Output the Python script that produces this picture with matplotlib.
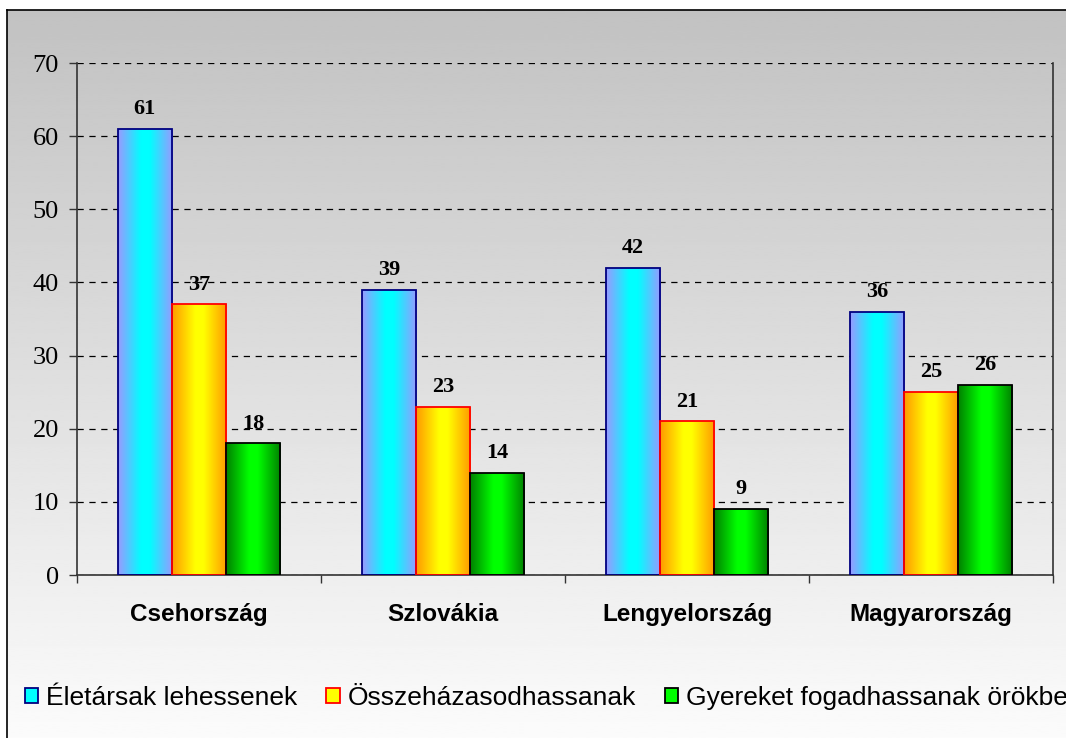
import numpy as np
import matplotlib.pyplot as plt
from matplotlib.colors import LinearSegmentedColormap
from matplotlib.patches import Rectangle
from matplotlib.lines import Line2D

# data
countries = ["Csehország", "Szlovákia", "Lengyelország", "Magyarország"]
eletarsak = [61, 39, 42, 36]
osszehazasodhassanak = [37, 23, 21, 25]
gyereket = [18, 14, 9, 26]
series_names = ["Életársak lehessenek", "Összeházasodhassanak",
                "Gyereket fogadhassanak örökbe"]
yticks = [0, 10, 20, 30, 40, 50, 60, 70]

# style for each series: (edge colour of gradient, centre colour, outline)
styles = [("#9999ff", "#00ffff", "#000080"),
          ("#ff9900", "#ffff00", "#ff0000"),
          ("#008000", "#00ff00", "#000000")]

W, H = 1066, 738
fig = plt.figure(figsize=(W / 100, H / 100), dpi=100)

# background gradient inside the chart border
bg = fig.add_axes([7 / W, 0, 1 - 7 / W, (H - 10) / H], zorder=0)
bg.set_axis_off()
grad = np.linspace(0.76, 0.985, 256).reshape(-1, 1)
bg.imshow(grad, cmap="gray", vmin=0, vmax=1, aspect="auto",
          extent=[0, 1, 1, 0], interpolation="bilinear")
fig.add_artist(Line2D([7 / W, 7 / W], [0, (H - 10) / H], color="black", lw=1.2))
fig.add_artist(Line2D([7 / W, 1], [(H - 10) / H, (H - 10) / H], color="black", lw=1.2))

ax = fig.add_axes([77 / W, (H - 575) / H, (1053 - 77) / W, (575 - 63) / H], zorder=1)
ax.set_facecolor("none")

x = np.arange(len(countries))
w = 0.222
all_series = [eletarsak, osszehazasodhassanak, gyereket]

for i, (vals, (c_edge, c_mid, c_line)) in enumerate(zip(all_series, styles)):
    bars = ax.bar(x + (i - 1) * w, vals, w, facecolor="none", edgecolor=c_line,
                  linewidth=1.3, zorder=3, label=series_names[i])
    cmap = LinearSegmentedColormap.from_list(
        "g%d" % i, [(0, c_edge), (0.42, c_mid), (0.58, c_mid), (1, c_edge)])
    row = np.linspace(0, 1, 128).reshape(1, -1)
    for p in bars.patches:
        x0, y0 = p.get_x(), p.get_y()
        im = ax.imshow(row, cmap=cmap, aspect="auto", zorder=2, interpolation="bilinear",
                       extent=[x0, x0 + p.get_width(), y0, y0 + p.get_height()])
        im.set_clip_path(p)
    ax.bar_label(bars, padding=7, fontsize=16, fontweight="bold",
                 family="Liberation Serif")

ax.set_xlim(-0.5, len(countries) - 0.5)
ax.set_ylim(0, 70)
ax.set_yticks(yticks)
ax.set_yticklabels([str(t) for t in yticks], family="Liberation Serif", fontsize=19)
ax.tick_params(axis="y", direction="out", length=6, width=1, color="#333333", pad=7)

ax.set_xticks(np.arange(-0.5, len(countries), 1.0))
ax.set_xticklabels([])
ax.tick_params(axis="x", which="major", direction="out", length=6, width=1, color="#333333")
ax.set_xticks(x, minor=True)
ax.set_xticklabels(countries, minor=True, family="Liberation Sans",
                   fontweight="bold", fontsize=17.5)
ax.tick_params(axis="x", which="minor", length=0, pad=20)

ax.set_axisbelow(True)
ax.yaxis.grid(True, linestyle=(0, (5, 4.5)), color="black", linewidth=0.9)
ax.spines["top"].set_visible(False)
for s in ["left", "right", "bottom"]:
    ax.spines[s].set_color("#333333")
    ax.spines[s].set_linewidth(1.2)

# legend with small square markers
handles = [Rectangle((0, 0), 1, 1, facecolor=c_mid, edgecolor=c_line, linewidth=1.3)
           for (c_edge, c_mid, c_line) in styles]
fig.legend(handles, series_names, loc="center left",
           bbox_to_anchor=(25 / W, 1 - 698 / H), ncol=3, frameon=False,
           prop={"family": "Liberation Sans", "size": 19},
           handlelength=0.5, handleheight=0.5, handletextpad=0.3,
           columnspacing=1.1, borderaxespad=0, borderpad=0)

fig.savefig("out.png", dpi=100)
